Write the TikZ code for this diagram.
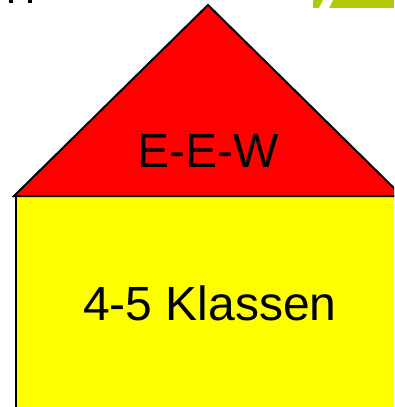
\documentclass[tikz,border=0pt]{standalone}
\usepackage{fontspec}
\setmainfont{Liberation Sans}
\definecolor{roofred}{RGB}{255,0,0}
\definecolor{wallyellow}{RGB}{255,255,0}
\definecolor{logogreen}{RGB}{180,200,10}
\begin{document}
\begin{tikzpicture}[x=1pt,y=-1pt,
  outline/.style={draw=black,line width=2pt,line join=miter},
  label/.style={font=\fontsize{48}{48}\selectfont,inner sep=0pt,anchor=base}]
\useasboundingbox (0,0) rectangle (394,407);
\clip (0,0) rectangle (394,407);
\fill[white] (0,0) rectangle (394,407);
% wall
\filldraw[outline,fill=wallyellow] (16,196) rectangle (440,440);
% roof
\filldraw[outline,fill=roofred] (208,5) -- (14,196) -- (402,196) -- cycle;
% text
\node[label] (roof) at (208.5,167) {E-E-W};
\node[label] (wall) at (210,320) {4-5 Klassen};
% cropped marks at top
\fill[black] (9,0) rectangle (13,3);
\fill[black] (28,0) rectangle (32,3);
\fill[logogreen] (313,0) rectangle (394,8);
\fill[white] (323,0) -- (333,0) -- (329,8) -- (319,8) -- cycle;
\end{tikzpicture}
\end{document}
